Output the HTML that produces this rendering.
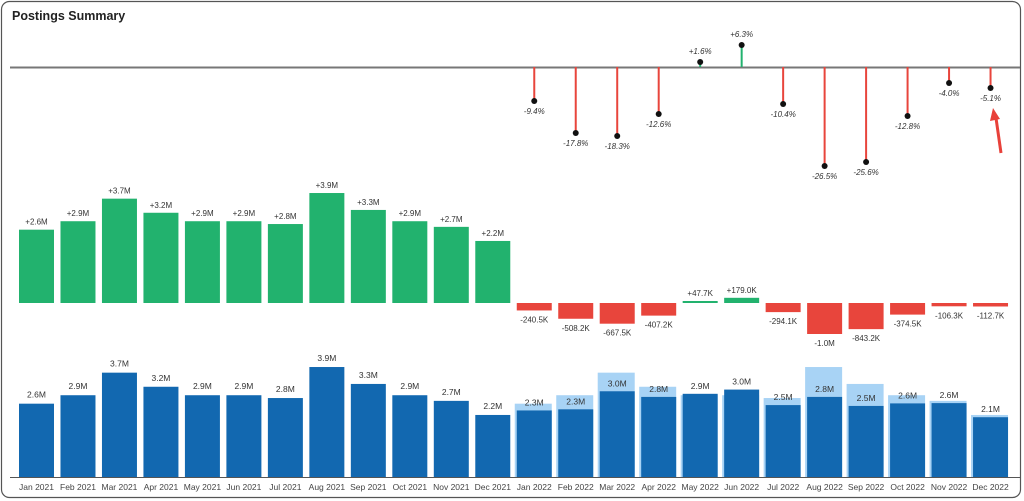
<!DOCTYPE html>
<html><head><meta charset="utf-8"><style>
html,body{margin:0;padding:0;background:#fff;}
svg{display:block;font-family:"Liberation Sans",sans-serif;}
</style></head><body>
<svg id="s" width="1024" height="501" xmlns="http://www.w3.org/2000/svg">
<rect x="1.5" y="1.5" width="1019" height="496" rx="8" fill="#fff" stroke="#555" stroke-width="1.2"/>
<text x="12" y="20" font-size="12.5" font-weight="bold" fill="#222">Postings Summary</text>
<line x1="10" y1="67.5" x2="1020" y2="67.5" stroke="#777" stroke-width="2"/>
<line x1="10" y1="477.5" x2="1020" y2="477.5" stroke="#555" stroke-width="1"/>
<g id="g"></g>
<path d="M1001,153 L996,118" stroke="#e8413a" stroke-width="3"/>
<path d="M993,108 L990,121 L1000,119 Z" fill="#e8413a"/>
</svg>
<script>
var g=document.getElementById('g'),h='';
var m=['Jan','Feb','Mar','Apr','May','Jun','Jul','Aug','Sep','Oct','Nov','Dec'];
var v21=[2.6,2.9,3.7,3.2,2.9,2.9,2.8,3.9,3.3,2.9,2.7,2.2];
var v22=[2.36,2.4,3.04,2.84,2.95,3.1,2.55,2.84,2.52,2.61,2.62,2.12];
var l22=['2.3M','2.3M','3.0M','2.8M','2.9M','3.0M','2.5M','2.8M','2.5M','2.6M','2.6M','2.1M'];
var d22=[-0.2405,-0.5082,-0.6675,-0.4072,0.0477,0.179,-0.2941,-1.0,-0.8432,-0.3745,-0.1063,-0.1127];
var dl=['-240.5K','-508.2K','-667.5K','-407.2K','+47.7K','+179.0K','-294.1K','-1.0M','-843.2K','-374.5K','-106.3K','-112.7K'];
var pc=['-9.4%','-17.8%','-18.3%','-12.6%','+1.6%','+6.3%','-10.4%','-26.5%','-25.6%','-12.8%','-4.0%','-5.1%'];
var py=[101,133,136,114,62,45,104,166,162,116,83,88];
var s=28.2,w=35;
function t(x,y,txt,sz,c,st){return '<text x="'+x+'" y="'+y+'" font-size="'+sz+'" fill="'+(c||'#333')+'" text-anchor="middle"'+(st?' font-style="italic"':'')+'>'+txt+'</text>';}
for(var i=0;i<24;i++){
 var cx=36.5+i*41.48,x=cx-w/2;
 var lab=m[i%12]+' '+(i<12?2021:2022);
 h+=t(cx,490,lab,8.5,'#444');
 if(i<12){
  var v=v21[i],hh=v*s;
  h+='<rect x="'+x+'" y="'+(303-hh)+'" width="'+w+'" height="'+hh+'" fill="#22b26e"/>';
  h+=t(cx,303-hh-5,'+'+v.toFixed(1)+'M',8,'#333');
  h+='<rect x="'+x+'" y="'+(477-hh)+'" width="'+w+'" height="'+hh+'" fill="#1268b0"/>';
  h+=t(cx,477-hh-6,v.toFixed(1)+'M',8.5,'#333');
 } else {
  var j=i-12,d=d22[j];
  if(d<0){var dh=-d*31;h+='<rect x="'+x+'" y="303" width="'+w+'" height="'+dh+'" fill="#e8453c"/>';h+=t(cx,303+dh+12,dl[j],8,'#333');}
  else{var dh=Math.max(d*29,2);h+='<rect x="'+x+'" y="'+(303-dh)+'" width="'+w+'" height="'+dh+'" fill="#22b26e"/>';h+=t(cx,303-dh-5,dl[j],8,'#333');}
  var lh=v21[j]*s,dh2=v22[j]*s;
  h+='<rect x="'+(x-2)+'" y="'+(477-lh)+'" width="'+(w+2)+'" height="'+lh+'" fill="#a8d3f5"/>';
  h+='<rect x="'+x+'" y="'+(477-dh2)+'" width="'+w+'" height="'+dh2+'" fill="#1268b0"/>';
  h+=t(cx,477-dh2-5,l22[j],8.5,'#333');
  var up=py[j]<67,col=up?'#22b26e':'#e8453c';
  h+='<line x1="'+cx+'" y1="67" x2="'+cx+'" y2="'+py[j]+'" stroke="'+col+'" stroke-width="2"/>';
  h+='<circle cx="'+cx+'" cy="'+py[j]+'" r="3" fill="#111"/>';
  h+=t(cx,up?py[j]-8:py[j]+13,pc[j],8,'#333',1);
 }
}
g.innerHTML=h;
</script>
</body></html>
